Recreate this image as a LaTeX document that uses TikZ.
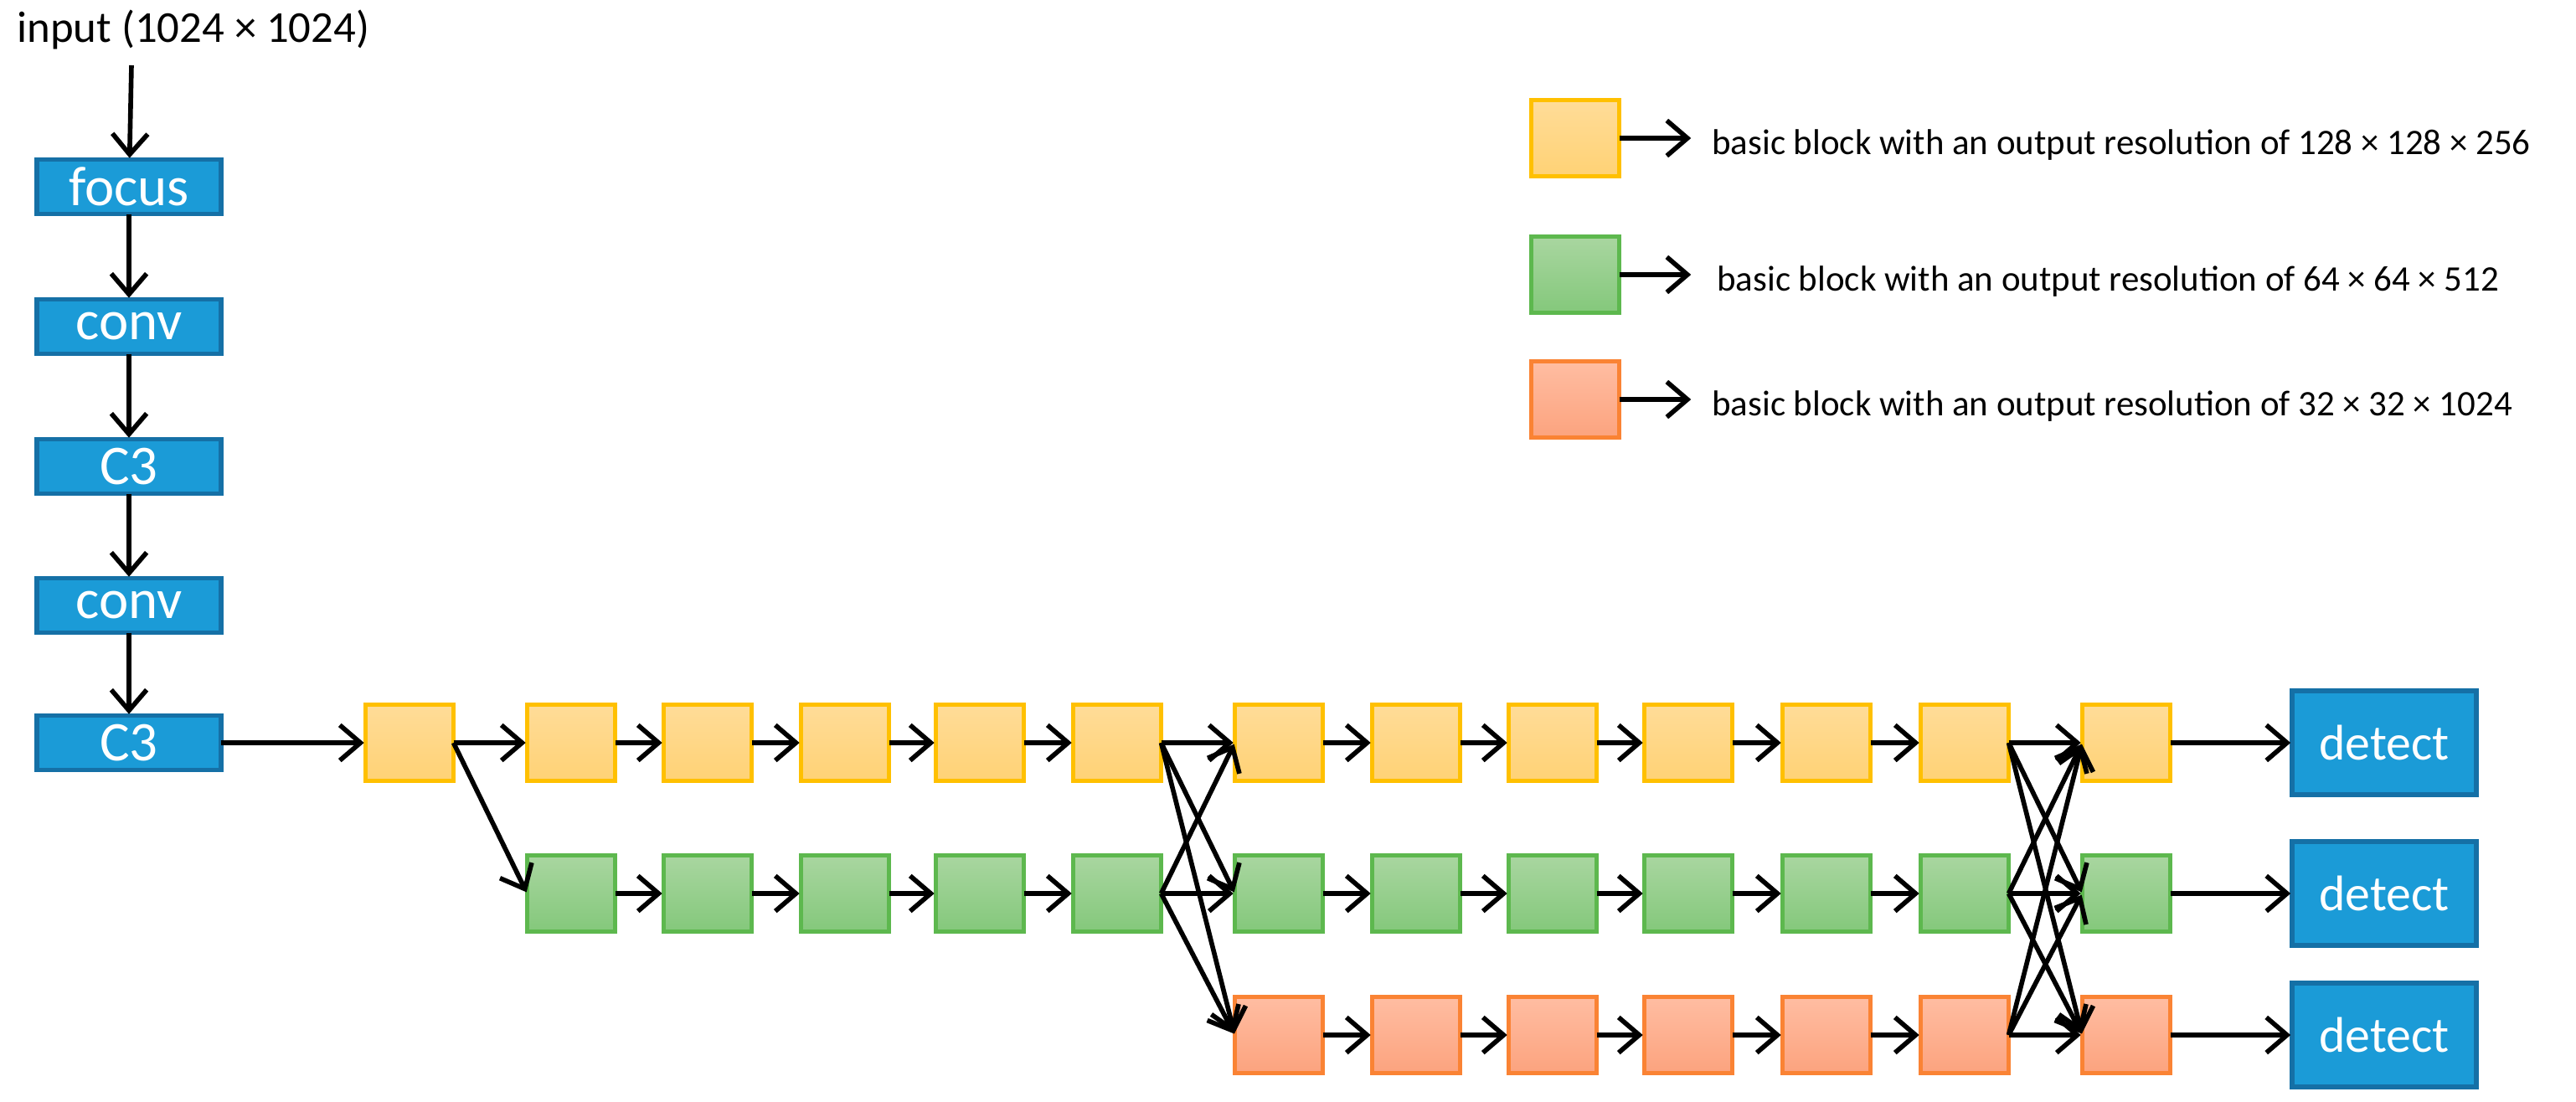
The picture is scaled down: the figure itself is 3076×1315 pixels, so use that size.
\documentclass[tikz,border=0pt]{standalone}
\usepackage{fontspec}
\setmainfont{Carlito}
\usetikzlibrary{arrows.meta}
\definecolor{yb}{HTML}{FFC000}\definecolor{yt}{HTML}{FFDC98}\definecolor{ybo}{HTML}{FFD275}
\definecolor{gb}{HTML}{5DB84E}\definecolor{gt}{HTML}{A9D6A0}\definecolor{gbo}{HTML}{84C87B}
\definecolor{rb}{HTML}{FA8334}\definecolor{rt}{HTML}{FFBDA2}\definecolor{rbo}{HTML}{FCA37E}
\definecolor{bf}{HTML}{1B9BD7}\definecolor{bb}{HTML}{1570A6}
\begin{document}
\begin{tikzpicture}[x=0.01cm,y=-0.01cm,
  blk/.style={minimum width=1.05cm,minimum height=0.91cm,inner sep=0,outer sep=0,line width=1.2pt},
  Y/.style={blk,draw=yb,top color=yt,bottom color=ybo},
  G/.style={blk,draw=gb,top color=gt,bottom color=gbo},
  R/.style={blk,draw=rb,top color=rt,bottom color=rbo},
  B/.style={draw=bb,fill=bf,line width=1.5pt,inner sep=0,outer sep=0,text=white,font=\fontsize{17}{17}\selectfont},
  arr/.style={-{Straight Barb[length=7pt,width=12pt,line width=1.6pt]},line width=1.6pt,shorten >=0.5pt},
  lg/.style={anchor=west,font=\fontsize{12.2}{13}\selectfont}]
\useasboundingbox (0,0) rectangle (3076,1315);
\node[anchor=west,font=\fontsize{15}{15}\selectfont] (in) at (8,35) {input (1024 × 1024)};
\coordinate (inb) at (157,78);
\foreach \n/\t/\y in {f/focus/223,c1/conv/390,c2/C3/557,c3/conv/723,c4/C3/887}
  \node[B,minimum width=2.2cm,minimum height=0.65cm,font=\fontsize{19}{19}\selectfont] (\n) at (154,\y) {\t};
\draw[arr] (inb) -- (f);
\draw[arr] (f) -- (c1); \draw[arr] (c1) -- (c2); \draw[arr] (c2) -- (c3); \draw[arr] (c3) -- (c4);
\foreach \i/\x in {0/435,1/628,2/791,3/955,4/1116,5/1280,6/1473,7/1637,8/1800,9/1962,10/2127,11/2292,12/2485}{
  \node[Y] (y\i) at (\x+54,887) {};
}
\foreach \i/\x in {1/628,2/791,3/955,4/1116,5/1280,6/1473,7/1637,8/1800,9/1962,10/2127,11/2292,12/2485}{
  \node[G] (g\i) at (\x+54,1067) {};
}
\foreach \i/\x in {6/1473,7/1637,8/1800,9/1962,10/2127,11/2292,12/2485}{
  \node[R] (r\i) at (\x+54,1236) {};
}
\foreach \n/\y in {d1/887,d2/1067,d3/1236}
  \node[B,minimum width=2.2cm,minimum height=1.24cm] (\n) at (2847,\y) {detect};
\draw[arr] (c4.east) -- (y0.west);
\draw[arr] (y0.east) -- (y1.west);
\draw[arr] (y0.east) -- (g1.west);
\foreach \a/\b in {1/2,2/3,3/4,4/5,6/7,7/8,8/9,9/10,10/11}{
  \draw[arr] (y\a.east) -- (y\b.west);
  \draw[arr] (g\a.east) -- (g\b.west);
}
\foreach \a/\b in {6/7,7/8,8/9,9/10,10/11}
  \draw[arr] (r\a.east) -- (r\b.west);
\foreach \s in {y5,g5} \foreach \t in {y6,g6,r6}
  \draw[arr] (\s.east) -- (\t.west);
\foreach \s in {y11,g11,r11} \foreach \t in {y12,g12,r12}
  \draw[arr] (\s.east) -- (\t.west);
\draw[arr] (y12.east) -- (d1.west);
\draw[arr] (g12.east) -- (d2.west);
\draw[arr] (r12.east) -- (d3.west);
% legend
\node[Y] (ly) at (1881,165) {};
\node[G] (lgg) at (1881,328) {};
\node[R] (lr) at (1881,477) {};
\coordinate (ay) at (2021,165); \coordinate (ag) at (2021,328); \coordinate (ar) at (2021,477);
\draw[arr] (ly.east) -- (ay); \draw[arr] (lgg.east) -- (ag); \draw[arr] (lr.east) -- (ar);
\node[lg] (ty) at (2032,173) {basic block with an output resolution of 128 × 128 × 256};
\node[lg] (tg) at (2038,336) {basic block with an output resolution of 64 × 64 × 512};
\node[lg] (tr) at (2032,485) {basic block with an output resolution of 32 × 32 × 1024};
\end{tikzpicture}
\end{document}
